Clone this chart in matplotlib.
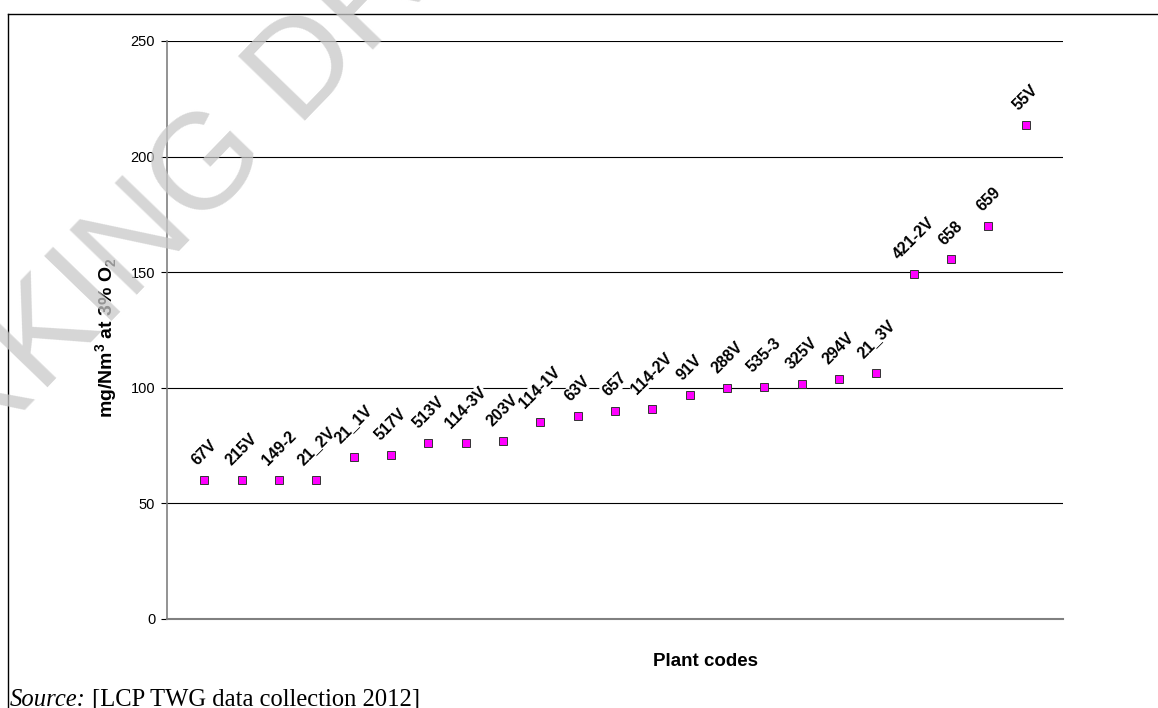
import matplotlib
matplotlib.use("Agg")
import matplotlib.pyplot as plt
from matplotlib.lines import Line2D

plant_codes = ["67V", "215V", "149-2", "21_2V", "21_1V", "517V", "513V", "114-3V",
               "203V", "114-1V", "63V", "657", "114-2V", "91V", "288V", "535-3",
               "325V", "294V", "21_3V", "421-2V", "658", "659", "55V"]
values = [60, 60, 60, 60.3, 70, 71, 76, 76, 77, 85, 88, 90, 91, 97, 100, 100.5,
          101.6, 104, 106.4, 149.2, 155.5, 170, 213.7]
y_ticks = [0, 50, 100, 150, 200, 250]

plt.rcParams['font.family'] = ['Liberation Sans', 'DejaVu Sans']
plt.rcParams['mathtext.fontset'] = 'custom'
plt.rcParams['mathtext.rm'] = 'Liberation Sans'
plt.rcParams['mathtext.bf'] = 'Liberation Sans:bold'

W, H = 1158, 708
fig = plt.figure(figsize=(W / 100, H / 100), dpi=100)
ax = fig.add_axes([167 / W, 1 - 619 / H, (1063 - 167) / W, (619 - 41) / H])

x = list(range(1, len(values) + 1))
ax.set_xlim(0, len(values) + 1)
ax.set_ylim(0, 250)
ax.set_yticks(y_ticks)
ax.set_xticks([])
for t in y_ticks[1:]:
    ax.axhline(t, color='black', lw=0.8, zorder=1)
ax.tick_params(axis='y', direction='out', length=4.5, width=0.8, color='black',
               labelsize=10.5, pad=4)
for s in ['top', 'right']:
    ax.spines[s].set_visible(False)
ax.spines['left'].set_color('#808080')
ax.spines['left'].set_linewidth(1.2)
ax.spines['bottom'].set_color('#808080')
ax.spines['bottom'].set_linewidth(1.5)

ax.plot(x, values, linestyle='none', marker='s', markersize=5.8,
        markerfacecolor='#FF00FF', markeredgecolor='#333333', markeredgewidth=0.7,
        zorder=4, clip_on=False)

for xi, v, lab in zip(x, values, plant_codes):
    ax.annotate(lab, (xi, v), xytext=(0, 8.5), textcoords='offset points',
                ha='center', va='bottom', rotation=45, fontsize=11.5,
                fontweight='bold', zorder=3,
                bbox=dict(boxstyle='square,pad=0.05', fc='white', ec='none'))

fig.text(107 / W, 1 - 338 / H, r'mg/Nm$^{\mathbf{3}}$ at 3% O$_{\mathbf{2}}$',
         rotation=90, ha='center', va='center', fontsize=14, fontweight='bold')
fig.text(705 / W, 1 - 661 / H, 'Plant codes', ha='center', va='center',
         fontsize=13.5, fontweight='bold')

# source line
t1 = fig.text(10 / W, 1 - 706 / H, 'Source:', ha='left', va='baseline',
              fontsize=17.7, family='Liberation Serif', style='italic')
fig.canvas.draw()
bb = t1.get_window_extent()
fig.text(bb.x1 / W + 6 / W, 1 - 706 / H, '[LCP TWG data collection 2012]',
         ha='left', va='baseline', fontsize=17.7, family='Liberation Serif')

# outer frame
fig.add_artist(Line2D([8 / W, 8 / W], [0, 1 - 14 / H], color='black', lw=1.0,
                      transform=fig.transFigure))
fig.add_artist(Line2D([8 / W, 1], [1 - 14 / H, 1 - 14 / H], color='black', lw=1.0,
                      transform=fig.transFigure))

# watermark
fig.text(186 / W, 1 - 194 / H, 'WORKING DRAFT', ha='center', va='center',
         rotation=46, rotation_mode='anchor', fontsize=98,
         color='#c8c8c8', alpha=0.75, zorder=10)

fig.savefig('out.png', dpi=100)
